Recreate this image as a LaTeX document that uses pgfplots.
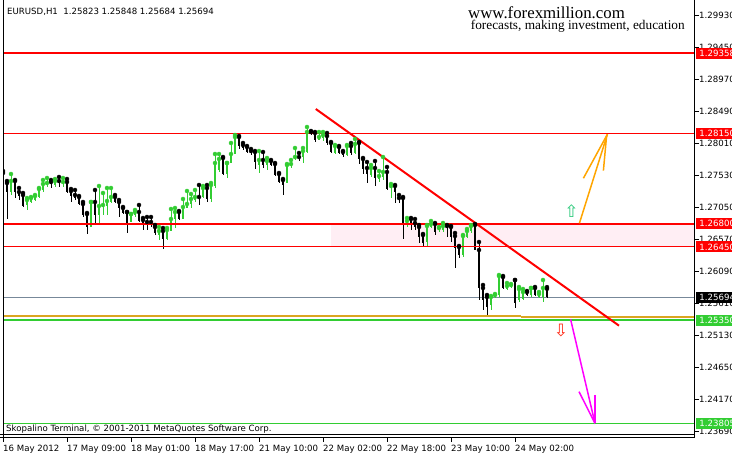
\documentclass[border=0pt]{standalone}
\usepackage{fontspec}
\setmainfont{DejaVu Sans}
\newfontfamily\serifweb{Liberation Serif}
\usepackage{pgfplots}
\usepackage{pgfplotstable}
\pgfplotsset{compat=1.18}

\definecolor{bull}{RGB}{50,205,50}
\definecolor{band}{RGB}{255,238,244}
\definecolor{bidline}{RGB}{119,136,153}
\definecolor{goldma}{RGB}{218,165,32}
\definecolor{uparr}{RGB}{255,165,0}
\definecolor{dnarr}{RGB}{255,0,255}
\definecolor{hollowup}{RGB}{40,200,120}
\definecolor{hollowdn}{RGB}{255,40,20}

\newcommand{\mtfont}{\fontsize{8.6}{10}\selectfont}

% EURUSD H1, bars numbered from the left edge (i o h l c)
\pgfplotstableread{
i o h l c
0 1.27560 1.27590 1.27380 1.27410
1 1.27410 1.27440 1.26870 1.27275
3 1.27440 1.27455 1.27185 1.27275
4 1.27275 1.27335 1.27155 1.27215
5 1.27230 1.27260 1.27050 1.27065
12 1.27425 1.27455 1.27335 1.27395
14 1.27440 1.27500 1.27350 1.27410
16 1.27425 1.27470 1.27260 1.27275
17 1.27290 1.27320 1.27125 1.27215
18 1.27230 1.27305 1.27155 1.27185
19 1.27200 1.27215 1.27080 1.27095
20 1.27095 1.27125 1.26900 1.26930
21 1.26945 1.26960 1.26645 1.26750
23 1.27125 1.27305 1.26810 1.26930
28 1.27200 1.27230 1.27110 1.27125
29 1.27125 1.27155 1.26900 1.27035
30 1.27035 1.27050 1.26945 1.26960
31 1.26975 1.26975 1.26660 1.26810
34 1.26975 1.27080 1.26825 1.26840
35 1.26855 1.26885 1.26705 1.26810
36 1.26825 1.26900 1.26705 1.26795
37 1.26825 1.26900 1.26750 1.26810
38 1.26750 1.26780 1.26630 1.26660
40 1.26690 1.26735 1.26420 1.26570
44 1.26975 1.26990 1.26855 1.26870
49 1.27200 1.27380 1.27080 1.27193
51 1.27335 1.27380 1.27125 1.27170
55 1.27785 1.27800 1.27530 1.27545
59 1.28100 1.28115 1.27920 1.27965
60 1.27980 1.28010 1.27905 1.27935
61 1.27950 1.27965 1.27860 1.27875
62 1.27890 1.27920 1.27830 1.27860
63 1.27875 1.27890 1.27620 1.27725
65 1.27755 1.27875 1.27635 1.27680
67 1.27740 1.27755 1.27665 1.27680
68 1.27695 1.27710 1.27515 1.27530
69 1.27545 1.27560 1.27410 1.27425
70 1.27455 1.27470 1.27230 1.27380
74 1.27800 1.27860 1.27740 1.27785
77 1.28175 1.28190 1.28130 1.28160
78 1.28160 1.28175 1.28025 1.28055
81 1.28115 1.28160 1.27980 1.28010
82 1.28010 1.28025 1.27860 1.27875
84 1.27950 1.27965 1.27845 1.27860
85 1.27875 1.27890 1.27800 1.27830
87 1.27965 1.28010 1.27830 1.27860
89 1.28010 1.28025 1.27695 1.27770
90 1.27770 1.27785 1.27545 1.27620
91 1.27635 1.27725 1.27410 1.27545
93 1.27635 1.27740 1.27365 1.27485
96 1.27575 1.27650 1.27305 1.27320
98 1.27365 1.27380 1.27110 1.27275
99 1.27185 1.27230 1.27110 1.27178
100 1.27185 1.27200 1.26570 1.26810
102 1.26870 1.26885 1.26705 1.26810
103 1.26810 1.26870 1.26705 1.26750
104 1.26750 1.26780 1.26510 1.26600
105 1.26630 1.26645 1.26450 1.26510
108 1.26795 1.26810 1.26630 1.26675
111 1.26765 1.26780 1.26600 1.26735
112 1.26750 1.26765 1.26525 1.26600
113 1.26615 1.26660 1.26135 1.26435
114 1.26450 1.26465 1.26285 1.26330
118 1.26780 1.26795 1.26405 1.26405
119 1.26405 1.26525 1.25655 1.25835
120 1.25835 1.25880 1.25505 1.25655
121 1.25700 1.25730 1.25430 1.25550
125 1.26000 1.26015 1.25820 1.25835
128 1.25955 1.25955 1.25535 1.25610
131 1.25775 1.25790 1.25715 1.25730
133 1.25835 1.25850 1.25715 1.25730
136 1.25823 1.25848 1.25684 1.25694
}\bear

\pgfplotstableread{
i o h l c
2 1.27275 1.27545 1.27230 1.27440
6 1.27080 1.27185 1.27005 1.27155
7 1.27125 1.27200 1.27110 1.27185
8 1.27155 1.27230 1.27140 1.27215
9 1.27200 1.27335 1.27185 1.27320
10 1.27305 1.27455 1.27275 1.27395
11 1.27380 1.27485 1.27350 1.27410
13 1.27380 1.27470 1.27350 1.27440
15 1.27418 1.27485 1.27350 1.27425
22 1.26750 1.27125 1.26750 1.27125
24 1.26930 1.27365 1.26810 1.27065
25 1.27050 1.27260 1.26930 1.27080
26 1.27065 1.27335 1.26930 1.27140
27 1.27125 1.27335 1.27110 1.27200
32 1.26825 1.26945 1.26825 1.26945
33 1.26930 1.27005 1.26900 1.26975
39 1.26630 1.26750 1.26555 1.26690
41 1.26570 1.26735 1.26555 1.26705
42 1.26690 1.27020 1.26690 1.26870
43 1.26870 1.27035 1.26735 1.26975
45 1.26870 1.27170 1.26870 1.27050
46 1.27035 1.27290 1.27035 1.27095
47 1.27095 1.27245 1.27035 1.27170
48 1.27155 1.27305 1.27125 1.27200
50 1.27200 1.27365 1.27185 1.27335
52 1.27170 1.27410 1.27125 1.27380
53 1.27365 1.27845 1.27335 1.27710
54 1.27605 1.27845 1.27575 1.27770
56 1.27545 1.27710 1.27485 1.27710
57 1.27710 1.28010 1.27710 1.27845
58 1.27845 1.28130 1.27845 1.28100
64 1.27680 1.27890 1.27560 1.27755
66 1.27680 1.27785 1.27605 1.27740
71 1.27410 1.27695 1.27410 1.27680
72 1.27688 1.27755 1.27635 1.27695
73 1.27785 1.27935 1.27755 1.27800
75 1.27800 1.27935 1.27710 1.27890
76 1.27875 1.28250 1.27860 1.28175
79 1.28055 1.28175 1.28055 1.28100
80 1.28085 1.28175 1.28040 1.28130
83 1.27860 1.27980 1.27845 1.27965
86 1.27830 1.27980 1.27815 1.27965
88 1.27860 1.28070 1.27845 1.27995
92 1.27530 1.27680 1.27500 1.27635
94 1.27470 1.27590 1.27425 1.27515
95 1.27500 1.27800 1.27455 1.27575
97 1.27358 1.27395 1.27185 1.27365
101 1.26810 1.26885 1.26750 1.26840
106 1.26525 1.26780 1.26450 1.26765
107 1.26750 1.26840 1.26735 1.26795
109 1.26705 1.26750 1.26675 1.26735
110 1.26705 1.26810 1.26675 1.26765
115 1.26330 1.26630 1.26300 1.26615
116 1.26600 1.26720 1.26585 1.26690
117 1.26690 1.26780 1.26660 1.26765
122 1.25580 1.25715 1.25505 1.25700
123 1.25700 1.25745 1.25685 1.25730
124 1.25730 1.26030 1.25700 1.26015
126 1.25820 1.25910 1.25805 1.25865
127 1.25850 1.25895 1.25835 1.25880
129 1.25655 1.25850 1.25625 1.25820
130 1.25670 1.25820 1.25655 1.25775
132 1.25730 1.25835 1.25700 1.25835
134 1.25700 1.25775 1.25685 1.25745
135 1.25700 1.25955 1.25625 1.25835
}\bull

\tikzset{pbox/.style={anchor=west, inner sep=0pt, minimum height=11pt,
  minimum width=42pt, text=white, font=\mtfont, xshift=1.5pt}}

\begin{document}
\begin{tikzpicture}
\begin{axis}[
  at={(3pt,17.5pt)}, anchor=south west,
  scale only axis, width=691.5pt, height=437.5pt,
  xmin=0, xmax=172.875, ymin=1.235925, ymax=1.30155,
  axis line style={draw=none},
  clip=false,
  xtick={0,16,32,48,64,80,96,112,128},
  xticklabels={16 May 2012, 17 May 09:00, 18 May 01:00, 18 May 17:00,
    21 May 10:00, 22 May 02:00, 22 May 18:00, 23 May 10:00, 24 May 02:00},
  xtick pos=left,
  ytick={1.2993,1.2945,1.2897,1.2849,1.2801,1.2753,1.2705,1.2657,1.2609,
    1.2561,1.2513,1.2465,1.2417,1.2369},
  yticklabels={1.29930,1.29450,1.28970,1.28490,1.28010,1.27530,1.27050,
    1.26570,1.26090,1.25610,1.25130,1.24650,1.24170,1.23690},
  ytick pos=right, yticklabel pos=right,
  tick align=outside, major tick length=4.5pt,
  tick style={black, line width=0.8pt},
  tick label style={font=\mtfont},
  xticklabel style={anchor=north west, inner sep=0pt, yshift=-3pt},
  yticklabel style={anchor=west, inner sep=0pt},
]
% resistance zone
\addplot[fill=band, draw=none, forget plot]
  coordinates {(82,1.26450) (172.875,1.26450) (172.875,1.26800) (82,1.26800) (82,1.26450)};
% bid line
\addplot[bidline, line width=0.9pt] coordinates {(0,1.25694) (172.875,1.25694)};
% moving average
\addplot[goldma, line width=2pt] coordinates {(0.2,1.25415) (129.6,1.25415)};
\addplot[goldma, line width=2pt] coordinates {(129.6,1.25400) (172.875,1.25400)};

% candles: wicks then bodies
\addplot[only marks, mark=none, black, error bars/.cd, y dir=minus, y explicit,
  error mark=none, error bar style={line width=1pt, black}]
  table[x=i, y=h, y error minus expr=\thisrow{h}-\thisrow{l}] {\bear};
\addplot[only marks, mark=none, black, error bars/.cd, y dir=minus, y explicit,
  error mark=none, error bar style={line width=2.8pt, black}]
  table[x=i, y=o, y error minus expr={max(\thisrow{o}-\thisrow{c},0.0001)}] {\bear};
\addplot[only marks, mark=none, bull, error bars/.cd, y dir=minus, y explicit,
  error mark=none, error bar style={line width=1pt, bull}]
  table[x=i, y=h, y error minus expr=\thisrow{h}-\thisrow{l}] {\bull};
\addplot[only marks, mark=none, bull, error bars/.cd, y dir=minus, y explicit,
  error mark=none, error bar style={line width=2.8pt, bull}]
  table[x=i, y=c, y error minus expr={max(\thisrow{c}-\thisrow{o},0.0001)}] {\bull};

% levels
\addplot[red, line width=2.2pt] coordinates {(0,1.29358) (172.875,1.29358)};
\addplot[red, line width=1pt] coordinates {(0,1.28150) (172.875,1.28150)};
\addplot[red, line width=2.2pt] coordinates {(0,1.26800) (172.875,1.26800)};
\addplot[red, line width=1pt] coordinates {(0,1.26450) (172.875,1.26450)};
\addplot[bull, line width=2pt] coordinates {(0,1.25350) (172.875,1.25350)};
\addplot[bull, line width=1pt] coordinates {(0,1.23805) (172.875,1.23805)};

% trend line
\addplot[red, line width=2pt] coordinates {(78.2,1.28520) (154,1.25270)};

% scenario arrows
\addplot[uparr, line width=1.5pt] coordinates {(144.1,1.26806) (151.1,1.28141)};
\addplot[uparr, line width=1.5pt] coordinates {(145.1,1.27481) (151.1,1.28141)};
\addplot[uparr, line width=1.5pt] coordinates {(150.1,1.27595) (150.9,1.28120)};
\addplot[dnarr, line width=1.5pt] coordinates {(141.9,1.25365) (148,1.23805)};
\addplot[dnarr, line width=1.5pt] coordinates {(144,1.24280) (148,1.23805)};
\addplot[dnarr, line width=2pt] coordinates {(148,1.24230) (148,1.23805)};

\node[text=hollowup, font=\fontsize{17}{17}\selectfont, inner sep=0pt] at (axis cs:142.1,1.26985) {⇧};
\node[text=hollowdn, font=\fontsize{17}{17}\selectfont, inner sep=0pt] at (axis cs:139.5,1.25195) {⇩};

% price labels on the scale
\node[pbox, fill=red] at (axis cs:172.875,1.29358) {1.29358};
\node[pbox, fill=red] at (axis cs:172.875,1.28150) {1.28150};
\node[pbox, fill=red] at (axis cs:172.875,1.26800) {1.26800};
\node[pbox, fill=red] at (axis cs:172.875,1.26450) {1.26450};
\node[pbox, fill=black] at (axis cs:172.875,1.25694) {1.25694};
\node[pbox, fill=bull] at (axis cs:172.875,1.25350) {1.25350};
\node[pbox, fill=bull] at (axis cs:172.875,1.23805) {1.23805};
\end{axis}

% window frame
\fill[white] (0pt,0pt) rectangle (2.5pt,455pt);
\draw[black, line width=1pt] (3pt,17.5pt) -- (3pt,455pt);
\draw[black, line width=1pt] (694.5pt,17.5pt) -- (694.5pt,455pt);
\draw[black, line width=1pt] (0pt,17.5pt) -- (694.5pt,17.5pt);
\draw[black, line width=1pt] (0pt,20.2pt) -- (694.5pt,20.2pt);

\node[anchor=base west, inner sep=0pt, font=\mtfont] at (7pt,440.5pt)
  {EURUSD,H1\ \ 1.25823 1.25848 1.25684 1.25694};
\node[anchor=base west, inner sep=0pt, font=\mtfont] at (6pt,23pt)
  {Skopalino Terminal, © 2001-2011 MetaQuotes Software Corp.};
\node[anchor=base west, inner sep=0pt, font=\serifweb\fontsize{16.8}{18}\selectfont] at (468pt,436.7pt)
  {www.forexmillion.com};
\node[anchor=base west, inner sep=0pt, font=\serifweb\fontsize{13.3}{15}\selectfont] at (470.7pt,425.7pt)
  {forecasts, making investment, education};

\pgfresetboundingbox
\useasboundingbox (0pt,0pt) rectangle (732pt,455pt);
\end{tikzpicture}
\end{document}
